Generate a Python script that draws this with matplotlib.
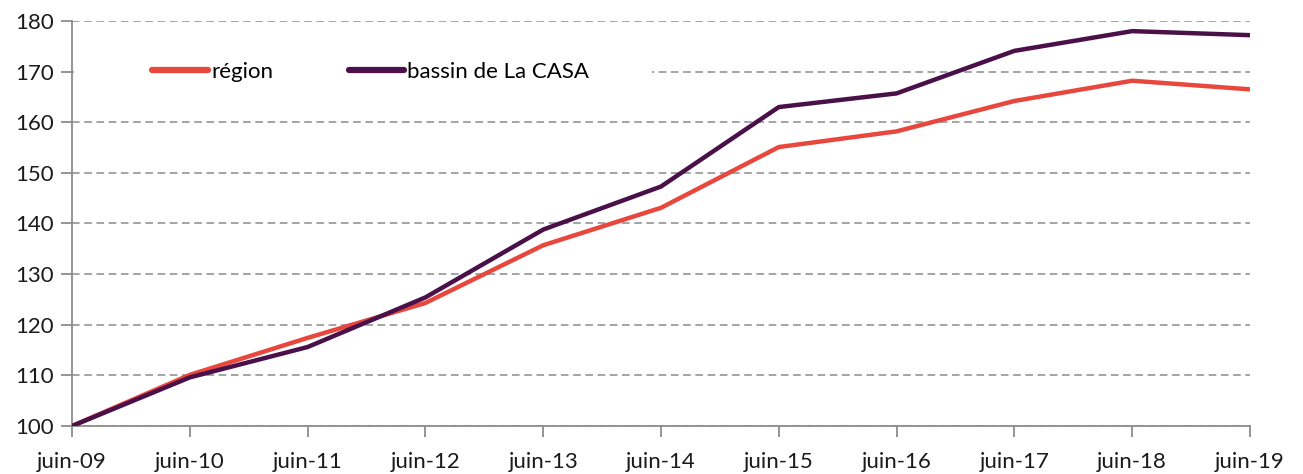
import matplotlib
matplotlib.use("Agg")
import matplotlib.pyplot as plt
import matplotlib.transforms as mtransforms
from matplotlib.patches import Rectangle

# donnees (base 100 en juin-09)
mois = ['juin-09', 'juin-10', 'juin-11', 'juin-12', 'juin-13', 'juin-14',
        'juin-15', 'juin-16', 'juin-17', 'juin-18', 'juin-19']
region = [100, 110.1, 117.4, 124.3, 135.7, 143.1, 155.1, 158.2, 164.2, 168.2, 166.5]
bassin = [100, 109.6, 115.6, 125.4, 138.8, 147.3, 163.0, 165.7, 174.1, 178.0, 177.2]

plt.rcParams['font.family'] = ['Lato', 'DejaVu Sans']

fig = plt.figure(figsize=(13.03, 4.74), dpi=100)
ax = fig.add_axes([0.0553, 0.1013, 0.9040, 0.8544])

x = range(len(mois))
ax.plot(x, region, color='#e8473d', lw=3.2, label='région', solid_capstyle='round', zorder=3)
ax.plot(x, bassin, color='#4a1049', lw=3.2, label='bassin de La CASA', solid_capstyle='round', zorder=3)

ax.set_xlim(0, len(mois) - 1)
ax.set_ylim(100, 180)
ax.set_yticks(range(100, 181, 10))
ax.set_xticks(list(x))
ax.set_xticklabels(mois)

ax.set_axisbelow(True)
ax.yaxis.grid(True, color='#8c8c8c', linestyle=(0, (5, 3)), lw=1.1)
ax.xaxis.grid(False)

for s in ['top', 'right']:
    ax.spines[s].set_visible(False)
for s in ['left', 'bottom']:
    ax.spines[s].set_color('#8c8c8c')
    ax.spines[s].set_linewidth(1.3)

ax.tick_params(axis='both', direction='out', length=8, width=1.3, color='#8c8c8c',
               labelsize=16, labelcolor='#1a1a1a')
ax.tick_params(axis='y', pad=5)
ax.tick_params(axis='x', pad=11)

# fond blanc derriere la legende (coupe la ligne 170)
trans = mtransforms.blended_transform_factory(ax.transAxes, ax.transData)
ax.add_patch(Rectangle((0.002, 167.5), 0.490, 5, transform=trans,
                       facecolor='white', edgecolor='none', zorder=1))

leg = ax.legend(loc='center left', bbox_to_anchor=(0.068, 0.875), ncol=2,
                frameon=False, fontsize=16, handlelength=2.5, handletextpad=0.15,
                columnspacing=3.4, borderaxespad=0, borderpad=0)
for h in leg.get_lines():
    h.set_linewidth(4.5)

fig.savefig('out.png', dpi=100)
